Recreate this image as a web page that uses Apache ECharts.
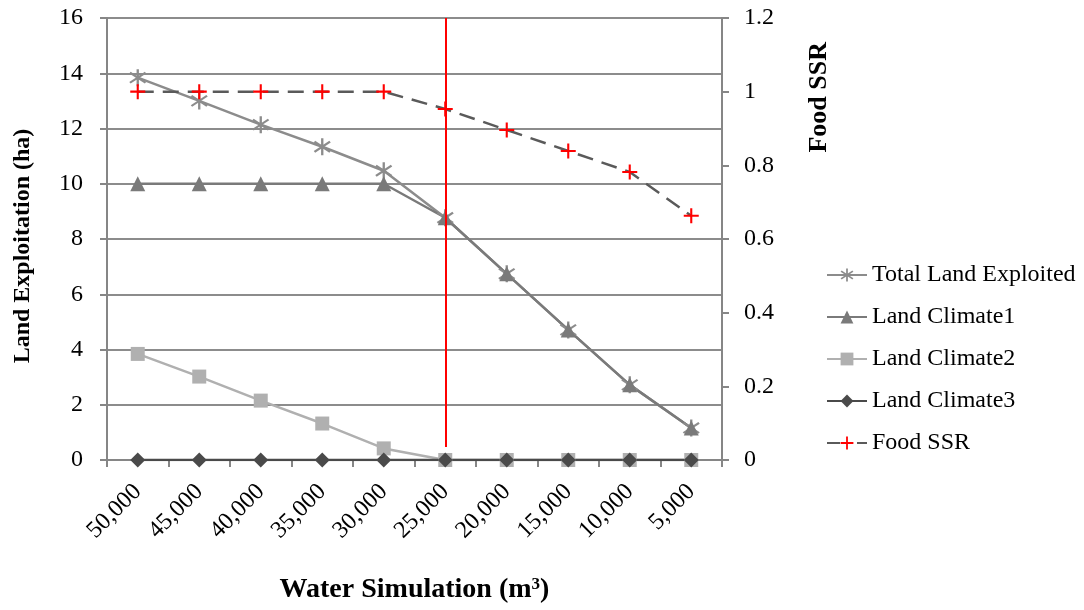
<!DOCTYPE html>
<html>
<head>
<meta charset="utf-8">
<script src="https://cdn.jsdelivr.net/npm/echarts@6/dist/echarts.min.js"></script>
<style>html,body{margin:0;padding:0;background:#fff;}#c{width:1084px;height:610px;}</style>
</head>
<body>
<div id="c"></div>
<script>
const categories = ['50,000','45,000','40,000','35,000','30,000','25,000','20,000','15,000','10,000','5,000'];
const totalLand = [13.84, 13.0, 12.14, 11.34, 10.47, 8.77, 6.74, 4.71, 2.72, 1.16];
const landClimate1 = [10, 10, 10, 10, 10, 8.77, 6.74, 4.71, 2.72, 1.16];
const landClimate2 = [3.84, 3.02, 2.15, 1.32, 0.42, 0, 0, 0, 0, 0];
const landClimate3 = [0, 0, 0, 0, 0, 0, 0, 0, 0, 0];
const foodSSR = [1, 1, 1, 1, 1, 0.953, 0.896, 0.839, 0.782, 0.663];
const markerCategory = '25,000';
const markerRange = [1.2, 0.035];

const FONT = 'Liberation Serif';
const AXIS = '#868686';
const PLUS = 'path://M4.3,0H5.7V4.3H10V5.7H5.7V10H4.3V5.7H0V4.3H4.3Z';
const STAR = 'path://M4.4,0H5.6V10H4.4Z M1.36,1.52L9.36,7.52L8.64,8.48L0.64,2.48Z M8.64,1.52L9.36,2.48L1.36,8.48L0.64,7.52Z';

const chart = echarts.init(document.getElementById('c'));
chart.setOption({
  animation: false,
  grid: {left: 107, right: 362, top: 18, bottom: 150},
  legend: {
    orient: 'vertical', left: 821, top: 258,
    itemWidth: 40, itemHeight: 16, itemGap: 18,
    textStyle: {fontFamily: FONT, fontSize: 24, color: '#000'},
    data: ['Total Land Exploited','Land Climate1','Land Climate2','Land Climate3',
      {name: 'Food SSR', lineStyle: {type: [13, 17]}}]
  },
  xAxis: {
    type: 'category', data: categories, boundaryGap: true,
    name: 'Water Simulation (m{sup|3})', nameLocation: 'middle', nameGap: 116,
    nameTextStyle: {fontFamily: FONT, fontSize: 28, fontWeight: 'bold', color: '#000',
      rich: {sup: {fontFamily: FONT, fontSize: 17, fontWeight: 'bold', color: '#000', verticalAlign: 'top', padding: [0, 0, 11, 0]}}},
    axisLine: {lineStyle: {color: AXIS, width: 2}},
    axisTick: {show: true, length: 7, lineStyle: {color: AXIS, width: 2}},
    axisLabel: {rotate: 45, margin: 28, fontFamily: FONT, fontSize: 24, color: '#000'}
  },
  yAxis: [{
    type: 'value', min: 0, max: 16, interval: 2,
    name: 'Land Exploitation (ha)', nameLocation: 'middle', nameGap: 72,
    nameTextStyle: {fontFamily: FONT, fontSize: 24, fontWeight: 'bold', color: '#000', padding: [0, 14, 0, 0]},
    axisLine: {show: true, lineStyle: {color: AXIS, width: 2}},
    axisTick: {show: true, length: 7, lineStyle: {color: AXIS, width: 2}},
    axisLabel: {margin: 24, fontFamily: FONT, fontSize: 24, color: '#000'},
    splitLine: {show: true, lineStyle: {color: '#8c8c8c', width: 2}}
  }, {
    type: 'value', min: 0, max: 1.2, interval: 0.2, position: 'right',
    axisLine: {show: true, lineStyle: {color: AXIS, width: 2}},
    axisTick: {show: true, length: 7, lineStyle: {color: AXIS, width: 2}},
    axisLabel: {margin: 22, fontFamily: FONT, fontSize: 24, color: '#000',
      formatter: v => String(Math.round(v * 10) / 10)},
    splitLine: {show: false}
  }],
  graphic: [{
    type: 'text', left: 806, top: 42, rotation: Math.PI / 2,
    style: {text: 'Food SSR', font: 'bold 26px "Liberation Serif"', fill: '#000'}
  }],
  series: [{
    name: 'Total Land Exploited', type: 'line', data: totalLand,
    symbol: STAR, symbolSize: 17,
    lineStyle: {color: '#8c8c8c', width: 2.5}, itemStyle: {color: '#8c8c8c'}
  }, {
    name: 'Land Climate1', type: 'line', data: landClimate1,
    symbol: 'triangle', symbolSize: 15,
    lineStyle: {color: '#7a7a7a', width: 2.5}, itemStyle: {color: '#7a7a7a'}
  }, {
    name: 'Land Climate2', type: 'line', data: landClimate2,
    symbol: 'rect', symbolSize: 14,
    lineStyle: {color: '#b0b0b0', width: 2.5}, itemStyle: {color: '#b0b0b0'}
  }, {
    name: 'Land Climate3', type: 'line', data: landClimate3,
    symbol: 'diamond', symbolSize: 15,
    lineStyle: {color: '#4a4a4a', width: 2.5}, itemStyle: {color: '#4a4a4a'}
  }, {
    name: 'Food SSR', type: 'line', yAxisIndex: 1, data: foodSSR,
    symbol: PLUS, symbolSize: 15, z: 5,
    lineStyle: {color: '#5a5a5a', width: 2.5, type: [16, 9]}, itemStyle: {color: '#ff0000'},
    markLine: {
      silent: true, symbol: 'none', z: 10, label: {show: false},
      lineStyle: {color: '#ff0000', width: 2, type: 'solid'},
      data: [[{xAxis: markerCategory, yAxis: markerRange[0]}, {xAxis: markerCategory, yAxis: markerRange[1]}]]
    }
  }]
});
</script>
</body>
</html>
